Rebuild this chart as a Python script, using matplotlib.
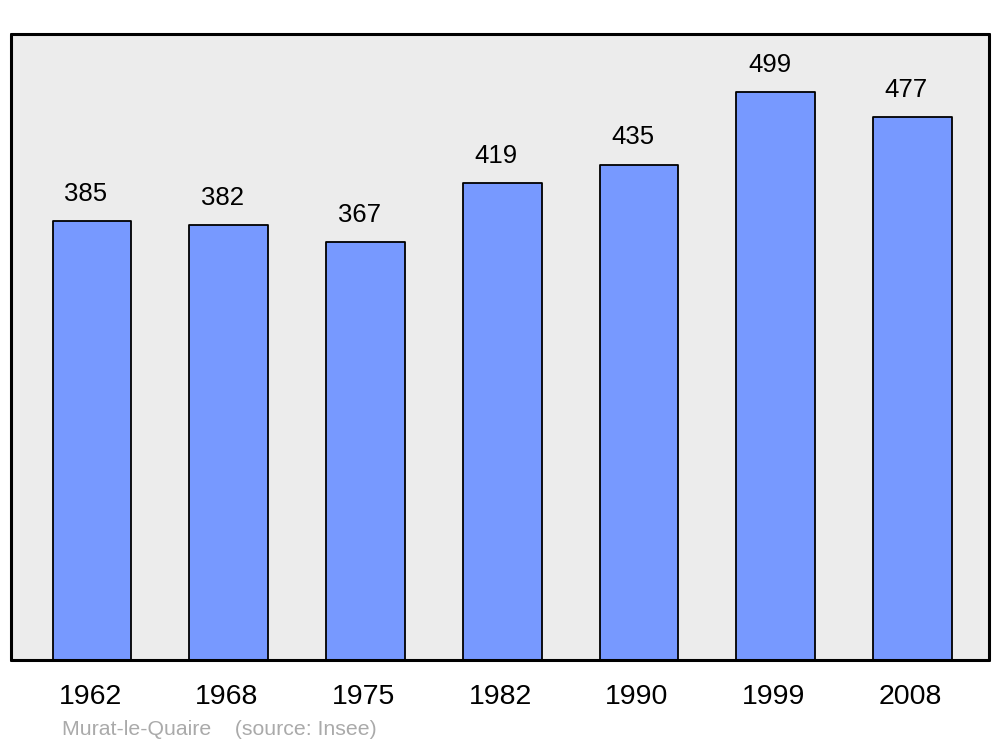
"""Population chart for Murat-le-Quaire"""

import matplotlib
matplotlib.use('Agg')
import matplotlib.pyplot as plt
import matplotlib.transforms as mtransforms

years = ['1962', '1968', '1975', '1982', '1990', '1999', '2008']
population = [385, 382, 367, 419, 435, 499, 477]


def main():
    """Main function"""
    plt.rcParams['font.family'] = ['Liberation Sans', 'DejaVu Sans']

    fig = plt.figure(figsize=(10, 7.47), dpi=100)
    ax = fig.add_axes([0.011, 0.1165, 0.978, 0.838])
    ax.set_facecolor('#ececec')

    pos = range(len(years))
    bars = ax.bar(pos, population, width=0.575, color='#7799ff',
                  edgecolor='black', linewidth=1.3)
    for b in bars:
        b.set_joinstyle('round')

    #value labels above each bar
    for x, v in zip(pos, population):
        ax.annotate(str(v), (x, v), xytext=(-4.5, 19.5), textcoords='offset points',
                    ha='center', va='center', fontsize=18.5)

    ax.set_xlim(-0.593, 6.56)
    ax.set_ylim(0, 549.6)
    ax.set_yticks([])
    ax.set_xticks(list(pos))
    ax.set_xticklabels(years, fontsize=20.5)
    ax.tick_params(axis='x', length=0, pad=17)
    #nudge tick labels a bit to the left
    shift = mtransforms.ScaledTranslation(-2 / 100, 0, fig.dpi_scale_trans)
    for lbl in ax.get_xticklabels():
        lbl.set_transform(lbl.get_transform() + shift)
    for s in ax.spines.values():
        s.set_linewidth(2.2)
        s.set_capstyle('round')
        s.set_joinstyle('round')

    fig.text(0.062, 0.023, 'Murat-le-Quaire    (source: Insee)',
             color='#aaaaaa', fontsize=15.3, ha='left', va='center')

    fig.savefig('out.png')


if __name__ == "__main__":
    main()
